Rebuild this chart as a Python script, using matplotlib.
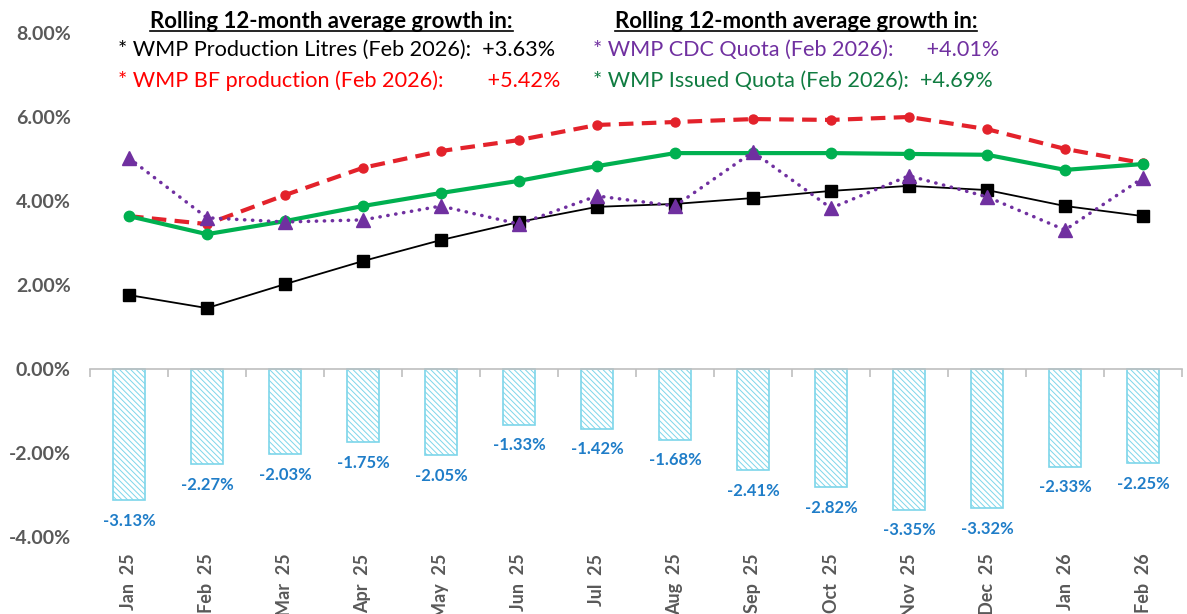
import matplotlib
matplotlib.use("Agg")
import numpy as np
import matplotlib.pyplot as plt
from matplotlib.ticker import FuncFormatter, FixedLocator, NullLocator

plt.rcParams['font.family'] = ['Lato', 'DejaVu Sans']
plt.rcParams['hatch.linewidth'] = 0.7

# data
months = ['Jan  25', 'Feb  25', 'Mar  25', 'Apr  25', 'May  25', 'Jun  25', 'Jul  25',
          'Aug  25', 'Sep  25', 'Oct  25', 'Nov  25', 'Dec  25', 'Jan  26', 'Feb  26']
prod_litres = [1.76, 1.45, 2.02, 2.57, 3.07, 3.50, 3.86, 3.93, 4.07, 4.24, 4.36, 4.26, 3.88, 3.64]
bf_prod = [3.64, 3.45, 4.14, 4.79, 5.19, 5.45, 5.81, 5.88, 5.95, 5.93, 6.00, 5.71, 5.24, 4.90]
issued_quota = [3.64, 3.21, 3.52, 3.88, 4.19, 4.48, 4.83, 5.14, 5.14, 5.14, 5.12, 5.10, 4.74, 4.88]
cdc_quota = [5.02, 3.60, 3.50, 3.55, 3.88, 3.45, 4.12, 3.88, 5.17, 3.83, 4.60, 4.10, 3.31, 4.55]
diff_bars = [-3.13, -2.27, -2.03, -1.75, -2.05, -1.33, -1.42, -1.68, -2.41, -2.82, -3.35, -3.32, -2.33, -2.25]

x = np.arange(len(months))

fig = plt.figure(figsize=(11.87, 6.14), dpi=100)
ax = fig.add_axes([0.0758, 0.1254, 0.92, 0.8209])

# bars
ax.bar(x, diff_bars, width=0.41, facecolor='white', edgecolor='#7DD6EA',
       hatch='\\\\\\\\\\\\', linewidth=1.2, zorder=2)
for xi, v in zip(x, diff_bars):
    ax.annotate(f'{v:.2f}%', (xi, v), xytext=(0, -9), textcoords='offset points',
                ha='center', va='top', fontsize=12, fontweight='bold', color='#1F7DC8')

# lines
ax.plot(x, prod_litres, color='black', linewidth=1.3, marker='s', markersize=8, zorder=4)
ax.plot(x, bf_prod, color='#E3222B', linewidth=3, linestyle=(0, (3.5, 2)), marker='o',
        markersize=6.5, zorder=5)
ax.plot(x, issued_quota, color='#00B050', linewidth=3, marker='o', markersize=7.5, zorder=5)
ax.plot(x, cdc_quota, color='#7030A0', linewidth=2.5, linestyle=(0, (0.1, 2.2)),
        dash_capstyle='round', marker='^', markersize=10, zorder=6)

ax.set_xlim(-0.5, len(months) - 0.5)
ax.set_ylim(-4, 8)
ax.set_yticks([-4, -2, 0, 2, 4, 6, 8])
ax.yaxis.set_major_formatter(FuncFormatter(lambda v, p: f'{v:.2f}%'))
ax.tick_params(axis='y', length=0, pad=14, labelsize=14, labelcolor='#595959')
for lbl in ax.get_yticklabels():
    lbl.set_fontweight('bold')

for s in ['left', 'right', 'top']:
    ax.spines[s].set_visible(False)
ax.spines['bottom'].set_position(('data', 0))
ax.spines['bottom'].set_color('#BFBFBF')
ax.spines['bottom'].set_linewidth(1.2)
ax.xaxis.set_major_locator(NullLocator())
ax.xaxis.set_minor_locator(FixedLocator(np.arange(-0.5, len(months), 1.0)))
ax.tick_params(axis='x', which='minor', length=6, color='#BFBFBF', width=1.2)

sec = ax.secondary_xaxis(location=0)
sec.set_xticks(x, months)
sec.spines['bottom'].set_visible(False)
sec.tick_params(length=0, pad=12, labelsize=13, labelcolor='#595959')
for lbl in sec.get_xticklabels():
    lbl.set_rotation(90)
    lbl.set_fontweight('bold')
    lbl.set_va('top')

# header text
fs = 15.6
t1 = fig.text(0.2793, 0.965, 'Rolling 12-month average growth in:', ha='center', va='center',
              fontsize=16, fontweight='bold', color='black')
fig.text(0.0994, 0.918, '* WMP Production Litres (Feb 2026):  +3.63%', ha='left', va='center',
         fontsize=fs, color='black')
fig.text(0.0994, 0.869, '* WMP BF production (Feb 2026):        +5.42%', ha='left', va='center',
         fontsize=fs, color='#FF0000')
t2 = fig.text(0.6706, 0.965, 'Rolling 12-month average growth in:', ha='center', va='center',
              fontsize=16, fontweight='bold', color='black')
fig.text(0.4996, 0.918, '* WMP CDC Quota (Feb 2026):      +4.01%', ha='left', va='center',
         fontsize=fs, color='#7030A0')
fig.text(0.4996, 0.869, '* WMP Issued Quota (Feb 2026):  +4.69%', ha='left', va='center',
         fontsize=fs, color='#107C41')

# underline the header titles
fig.canvas.draw()
r = fig.canvas.get_renderer()
for t in (t1, t2):
    bb = t.get_window_extent(r).transformed(fig.transFigure.inverted())
    fig.add_artist(plt.Line2D([bb.x0, bb.x1], [bb.y0 + 0.002, bb.y0 + 0.002],
                              color='black', linewidth=1.2, transform=fig.transFigure))

fig.savefig('out.png', dpi=100)
